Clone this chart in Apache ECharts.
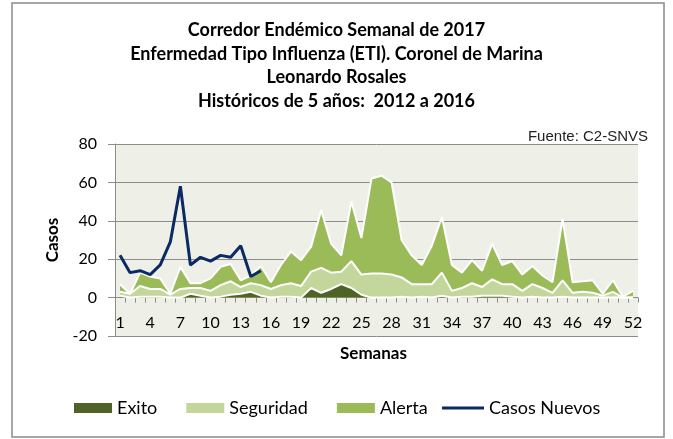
<!DOCTYPE html>
<html>
<head>
<meta charset="utf-8">
<script src="https://cdn.jsdelivr.net/npm/echarts@6/dist/echarts.min.js"></script>
<style>
  html, body { margin: 0; padding: 0; background: #fff; }
  #chart { width: 673px; height: 439px; }
</style>
</head>
<body>
<div id="chart"></div>
<script>
// semanas epidemiologicas
const semanas = Array.from({ length: 52 }, (_, i) => String(i + 1));

// limites del corredor
const exito = [1, 0, 0.5, 0.5, 0.5, 0, 0, 2, 1, 0, 0.5, 1.5, 2, 3, 1, 0, 0.5, 0.5, 0, 5,
  2.5, 4.5, 7, 5, 1.5, 0, 0, 0, 0.5, 0, 0.5, 0, 1, 0, 0.5, 0.5, 1, 1, 1, 0.5,
  0, 0.5, 0, 0, 0.5, 0, 0, 0, 0, 0, 0, 0];
const seguridad = [3, 2, 6, 4.5, 4.5, 1.5, 4.5, 5, 5, 3.5, 6.5, 8.5, 5.5, 7.5, 6.5, 4.5, 6.5, 7.5, 6, 13.5,
  15.5, 13, 13.5, 19, 12, 12.5, 12.5, 12, 10.5, 7, 7, 7, 13, 3.5, 5, 7.5, 5.5, 9.5, 7, 7,
  3.5, 7, 5, 2.5, 9, 2.5, 3, 2.5, 1, 3, 0, 0];
const alerta = [7, 2, 13, 11, 10, 2, 16, 7.5, 7.5, 10, 16, 17.5, 9, 11.5, 16.5, 8, 17, 24, 19.5, 26.5,
  45.5, 28, 22, 50, 31, 62, 63.5, 60, 30, 22, 17, 27, 42, 17, 13, 19.5, 14, 28, 17, 19,
  12, 16.5, 11.5, 8, 41, 8, 8.5, 9, 2, 9, 0.5, 3.5];

// casos del 2017
const casosNuevos = [22, 13, 14, 12, 17, 29, 58, 17, 21, 19, 22, 21, 27, 11, 14];

const tituloLineas = [
  'Corredor Endémico Semanal de 2017',
  'Enfermedad Tipo Influenza (ETI). Coronel de Marina',
  'Leonardo Rosales',
  'Históricos de 5 años:  2012 a 2016'
];

const font = 'Lato, "Open Sans", sans-serif';

const chart = echarts.init(document.getElementById('chart'));

const areaSerie = (name, data, color) => ({
  name,
  type: 'line',
  data,
  symbol: 'none',
  lineStyle: { color: '#fff', width: 2 },
  itemStyle: { color },
  areaStyle: { color, opacity: 1 }
});

const titulos = tituloLineas.map((t, i) => ({
  text: t,
  left: 'center',
  top: 19 + i * 23.5,
  padding: 0,
  textStyle: { fontFamily: font, fontSize: 18, fontWeight: 'bold', color: '#000', lineHeight: 23 }
}));

chart.setOption({
  animation: false,
  title: [
    ...titulos,
    {
      text: 'Fuente: C2-SNVS',
      right: 25,
      top: 129,
      padding: 0,
      textStyle: { fontFamily: '"Liberation Sans", Arial, sans-serif', fontSize: 15, fontWeight: 'normal', color: '#222' }
    }
  ],
  graphic: [
    {
      type: 'rect',
      shape: { x: 12, y: 3, width: 652, height: 434 },
      style: { fill: null, stroke: '#8a8a8a', lineWidth: 1.5 },
      silent: true
    },
    {
      type: 'text',
      left: 340,
      top: 345,
      style: { text: 'Semanas', font: 'bold 17px ' + font, fill: '#000' }
    }
  ],
  legend: [
    {
      left: 74,
      top: 399,
      padding: 0,
      itemWidth: 38,
      itemHeight: 10,
      itemGap: 29,
      textStyle: { fontFamily: font, fontSize: 18, color: '#000' },
      data: [
        { name: 'Exito', icon: 'rect' },
        { name: 'Seguridad', icon: 'rect' },
        { name: 'Alerta', icon: 'rect' }
      ]
    },
    {
      left: 442,
      top: 399,
      padding: 0,
      itemWidth: 42,
      itemHeight: 10,
      textStyle: { fontFamily: font, fontSize: 18, color: '#000' },
      data: [{ name: 'Casos Nuevos', icon: 'path://M0,0H42V3H0Z' }]
    }
  ],
  grid: {
    left: 115,
    right: 35,
    top: 144,
    bottom: 103,
    show: true,
    backgroundColor: '#EEF0E8',
    borderWidth: 0
  },
  xAxis: {
    type: 'category',
    data: semanas,
    boundaryGap: true,
    offset: -38.4,
    axisLine: { onZero: false, lineStyle: { color: '#8c8c8c', width: 1 } },
    axisTick: { show: true, interval: 0, length: 5, lineStyle: { color: '#8c8c8c' } },
    axisLabel: { interval: 2, margin: 17, fontFamily: font, fontSize: 16, color: '#000' },
    splitLine: { show: false }
  },
  yAxis: {
    type: 'value',
    min: -20,
    max: 80,
    interval: 20,
    name: 'Casos',
    nameLocation: 'middle',
    nameRotate: 90,
    nameGap: 54,
    nameTextStyle: { fontFamily: font, fontSize: 17, fontWeight: 'bold', color: '#000' },
    axisLine: { show: true, lineStyle: { color: '#8c8c8c' } },
    axisTick: { show: true, length: 7, lineStyle: { color: '#8c8c8c' } },
    axisLabel: { margin: 18, fontFamily: font, fontSize: 16, color: '#000' },
    splitLine: { lineStyle: { color: '#8c8c8c', width: 1 } }
  },
  series: [
    areaSerie('Alerta', alerta, '#9BBB59'),
    areaSerie('Seguridad', seguridad, '#C3D69B'),
    areaSerie('Exito', exito, '#4F6228'),
    {
      name: 'Casos Nuevos',
      type: 'line',
      data: casosNuevos,
      symbol: 'none',
      lineStyle: { color: '#0B2A63', width: 3 },
      itemStyle: { color: '#0B2A63' },
      z: 5
    }
  ]
});
</script>
</body>
</html>
